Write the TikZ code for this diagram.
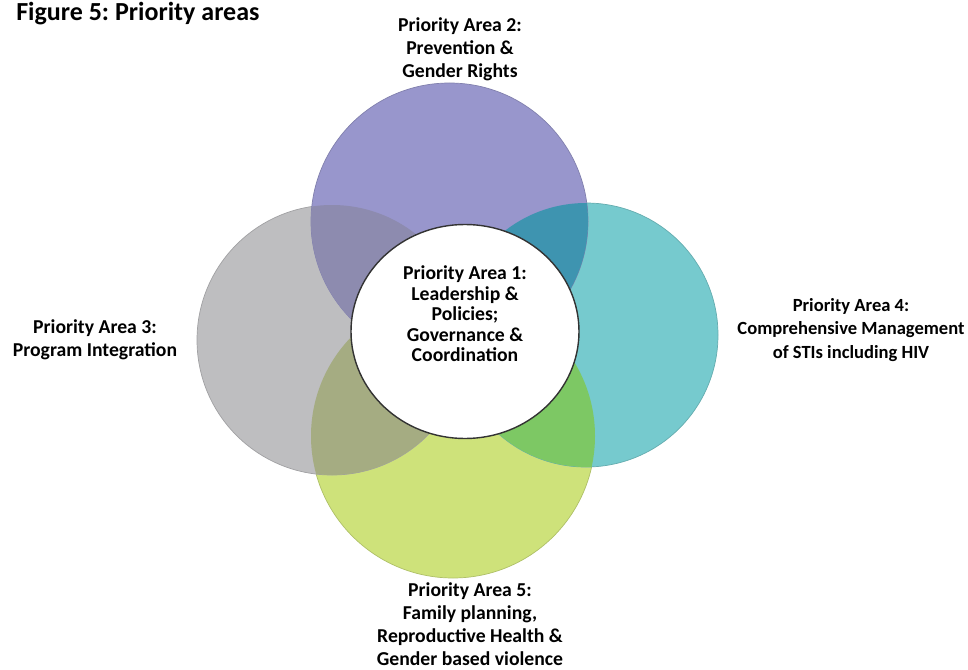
\documentclass[tikz,border=0pt]{standalone}
\usepackage{fontspec}
\setmainfont{Carlito}
\frenchspacing
\definecolor{pa2col}{HTML}{9896CC}
\definecolor{pa3col}{HTML}{BEBEC0}
\definecolor{pa4col}{HTML}{76CACE}
\definecolor{pa5col}{HTML}{CEE27A}
\definecolor{pa23col}{HTML}{8D8BAF}
\definecolor{pa24col}{HTML}{3E94B0}
\definecolor{pa45col}{HTML}{7DC864}
\definecolor{pa35col}{HTML}{A5AC82}
\begin{document}
\begin{tikzpicture}[x=0.025cm, y=-0.025cm,
      areatext/.style={align=center, inner sep=0pt, font=\bfseries\fontsize{14}{16.4}\selectfont},
      inner/.style={align=center, inner sep=0pt, font=\bfseries\fontsize{14}{14.6}\selectfont},
      rim/.style={line width=0.5pt}]
      \useasboundingbox (0,0) rectangle (968,670);
      % circle centres
      \coordinate (c2) at (449.5,221.5);
      \coordinate (c3) at (332,340);
      \coordinate (c4) at (586,335);
      \coordinate (c5) at (453,436);
      \coordinate (c1) at (465,331.5);
      % the four areas
      \fill[pa5col, draw=pa5col!85!black, rim] (c5) circle [radius=142];
      \fill[pa3col, draw=pa3col!85!black, rim] (c3) circle [radius=135];
      \fill[pa4col, draw=pa4col!85!black, rim] (c4) circle [radius=132];
      \fill[pa2col, draw=pa2col!85!black, rim] (c2) circle [radius=138.5];
      % overlaps
      \begin{scope}
        \clip (c2) circle [radius=138.5];
        \fill[pa23col] (c3) circle [radius=135];
        \fill[pa24col] (c4) circle [radius=132];
      \end{scope}
      \begin{scope}
        \clip (c5) circle [radius=142];
        \fill[pa35col] (c3) circle [radius=135];
        \fill[pa45col] (c4) circle [radius=132];
      \end{scope}
      % centre
      \fill[white, draw=black!80, line width=1pt] (c1) ellipse [x radius=114, y radius=107];
      \node[inner] (pa1) at (465,314) {Priority Area 1:\\Leadership \&\\Policies;\\Governance \&\\Coordination};
      \node[areatext] (pa2) at (460,49) {Priority Area 2:\\Prevention \&\\Gender Rights};
      \node[areatext] (pa3) at (95,340) {Priority Area 3:\\Program Integration};
      \node[areatext, font=\bfseries\fontsize{13.2}{16.4}\selectfont] (pa4) at (851,330) {Priority Area 4:\\Comprehensive Management\\of STIs including HIV};
      \node[areatext] (pa5) at (470,624) {Priority Area 5:\\Family planning,\\Reproductive Health \&\\Gender based violence};
      \node[anchor=base west, inner sep=0pt, font=\bfseries\fontsize{18.5}{22}\selectfont] (title) at (16,21) {Figure 5: Priority areas};
    \end{tikzpicture}
\end{document}
